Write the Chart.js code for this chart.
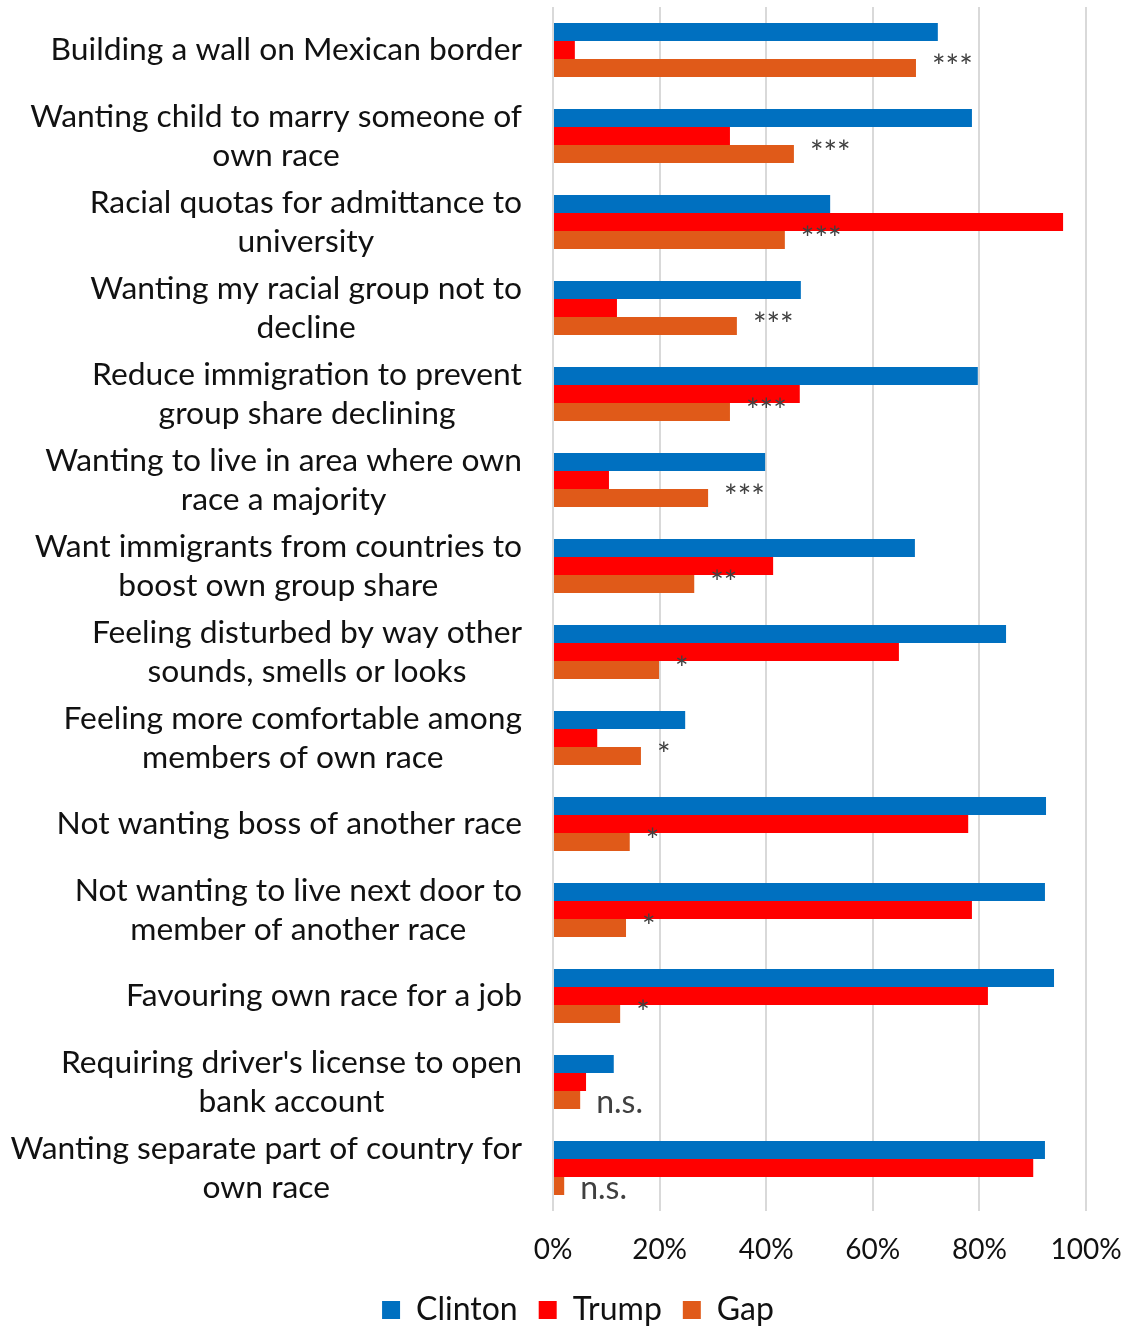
<!DOCTYPE html>
<html>
<head>
<meta charset="utf-8">
<script src="https://cdn.jsdelivr.net/npm/chart.js"></script>
<style>
  body { margin: 0; background: #fff; }
  #wrap { width: 1131px; height: 1329px; }
</style>
</head>
<body>
<div id="wrap"><canvas id="chart" width="1131" height="1329"></canvas></div>
<script>
// categories, each an array of label lines
var categories = [
    ['Building a wall on Mexican border'],
    ['Wanting child to marry someone of', 'own race'],
    ['Racial quotas for admittance to', 'university'],
    ['Wanting my racial group not to', 'decline'],
    ['Reduce immigration to prevent', 'group share declining'],
    ['Wanting to live in area where own', 'race a majority'],
    ['Want immigrants from countries to', 'boost own group share'],
    ['Feeling disturbed by way other', 'sounds, smells or looks'],
    ['Feeling more comfortable among', 'members of own race'],
    ['Not wanting boss of another race'],
    ['Not wanting to live next door to', 'member of another race'],
    ['Favouring own race for a job'],
    ['Requiring driver\'s license to open', 'bank account'],
    ['Wanting separate part of country for', 'own race']
];

var clinton = [72.2, 78.6, 52.0, 46.5, 79.7, 39.8, 67.9, 85.0, 24.8, 92.5, 92.3, 94.0, 11.4, 92.3];
var trump   = [4.1, 33.2, 95.7, 12.0, 46.3, 10.5, 41.3, 64.9, 8.3, 77.9, 78.6, 81.6, 6.2, 90.1];
var gap     = [68.1, 45.2, 43.5, 34.5, 33.2, 29.1, 26.5, 19.9, 16.5, 14.4, 13.7, 12.6, 5.1, 2.1];

var significance = ['***', '***', '***', '***', '***', '***', '**', '*', '*', '*', '*', '*', 'n.s.', 'n.s.'];

var xTicks = [0, 20, 40, 60, 80, 100];

Chart.defaults.font.family = 'Lato';
Chart.defaults.color = '#111';

// draws the wrapped category labels, each block right aligned, lines centred
var categoryLabels = {
    id: 'categoryLabels',
    afterDraw: function(chart) {
        var ctx = chart.ctx,
            y = chart.scales.y,
            right = chart.chartArea.left - 31,
            lineH = 39;

        ctx.save();
        ctx.font = '31.8px Lato';
        ctx.fillStyle = '#111';
        ctx.textAlign = 'center';
        ctx.textBaseline = 'middle';
        categories.forEach(function(lines, i) {
            var w = 0;
            lines.forEach(function(l) { w = Math.max(w, ctx.measureText(l).width); });
            var cx = right - w / 2,
                cy = y.getPixelForValue(i),
                top = cy - (lines.length - 1) * lineH / 2;
            lines.forEach(function(l, j) {
                ctx.fillText(l, cx, top + j * lineH);
            });
        });
        ctx.restore();
    }
};

// significance marks after each gap bar
var sigMarks = {
    id: 'sigMarks',
    afterDatasetsDraw: function(chart) {
        var ctx = chart.ctx,
            meta = chart.getDatasetMeta(2);

        ctx.save();
        ctx.fillStyle = '#404040';
        ctx.textAlign = 'left';
        ctx.textBaseline = 'alphabetic';
        ctx.font = '32px Lato';
        meta.data.forEach(function(bar, i) {
            var s = significance[i],
                bottom = bar.y + bar.height / 2;
            if (s === 'n.s.') {
                ctx.fillText(s, bar.x + 16, bottom + 4);
            } else {
                ctx.fillText(s, bar.x + 16, bottom + 1);
            }
        });
        ctx.restore();
    }
};

new Chart(document.getElementById('chart').getContext('2d'), {
    type: 'bar',
    data: {
        labels: categories,
        datasets: [
            { label: 'Clinton', data: clinton, backgroundColor: '#0070C0' },
            { label: 'Trump', data: trump, backgroundColor: '#FF0000' },
            { label: 'Gap', data: gap, backgroundColor: '#E05A19' }
        ]
    },
    options: {
        indexAxis: 'y',
        responsive: false,
        animation: false,
        categoryPercentage: 0.628,
        barPercentage: 1.0,
        layout: { padding: { top: 7, right: 45, bottom: -7, left: 70 } },
        plugins: {
            legend: {
                position: 'bottom',
                labels: {
                    boxWidth: 18,
                    boxHeight: 18,
                    padding: 21,
                    color: '#111',
                    font: { size: 32 }
                }
            },
            tooltip: { enabled: false }
        },
        scales: {
            x: {
                min: 0,
                max: 100,
                afterBuildTicks: function(scale) {
                    scale.ticks = xTicks.map(function(v) { return { value: v }; });
                },
                afterFit: function(scale) {
                    scale.height = 62;
                    scale.paddingLeft = 0;
                    scale.paddingRight = 0;
                },
                grid: { color: '#D9D9D9', lineWidth: 2, drawTicks: false },
                border: { display: false },
                ticks: {
                    padding: 22,
                    color: '#111',
                    font: { size: 28 },
                    callback: function(v) { return v + '%'; }
                }
            },
            y: {
                afterFit: function(scale) { scale.width = 483; },
                grid: { display: false },
                border: { display: false },
                ticks: { display: false }
            }
        }
    },
    plugins: [categoryLabels, sigMarks]
});
</script>
</body>
</html>
